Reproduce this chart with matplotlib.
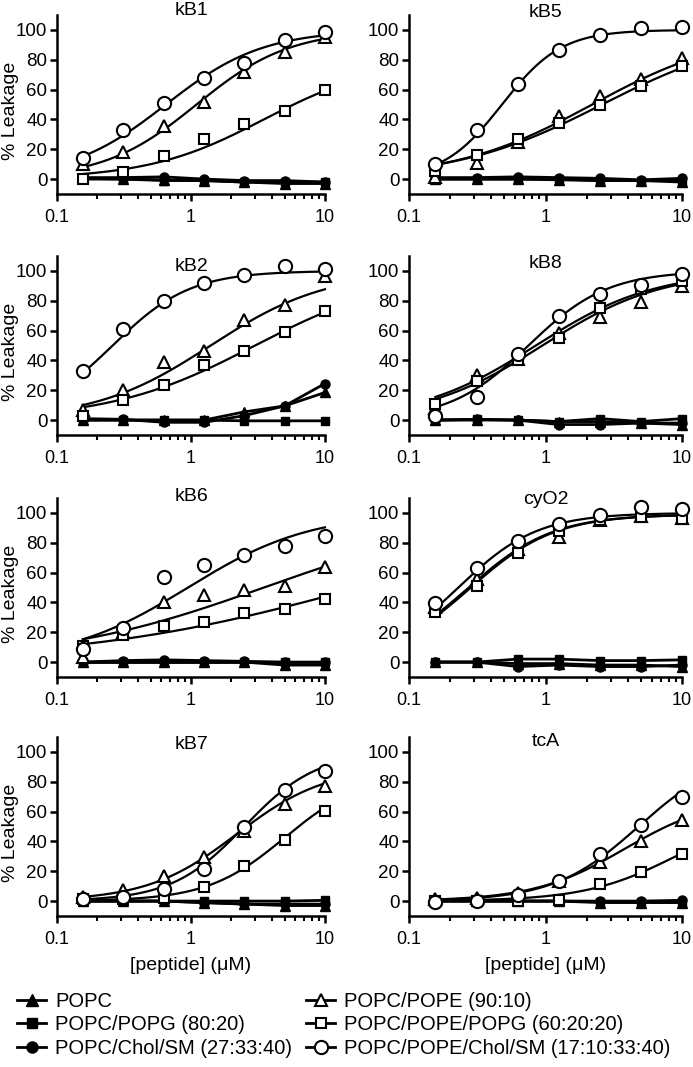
import numpy as np
import matplotlib
matplotlib.use('Agg')
import matplotlib.pyplot as plt
from matplotlib.lines import Line2D
from matplotlib.ticker import LogLocator, NullFormatter, FixedLocator, FixedFormatter

plt.rcParams['font.family'] = ['Liberation Sans', 'DejaVu Sans']

# ---------------- data ----------------
conc = [0.156, 0.3125, 0.625, 1.25, 2.5, 5, 10]
panel_names = ['kB1', 'kB5', 'kB2', 'kB8', 'kB6', 'cyO2', 'kB7', 'tcA']
series_labels = ['POPC', 'POPC/POPG (80:20)', 'POPC/Chol/SM (27:33:40)',
                 'POPC/POPE (90:10)', 'POPC/POPE/POPG (60:20:20)',
                 'POPC/POPE/Chol/SM (17:10:33:40)']
x_ticks = [0.1, 1, 10]
x_tick_labels = ['0.1', '1', '10']
y_ticks = [0, 20, 40, 60, 80, 100]

# order of each panel's arrays: POPC, POPG, Chol/SM, POPE, POPE/POPG, POPE/Chol/SM
kB1_popc = [0.5, 0, -0.5, -1, -2, -3, -3]
kB1_popg = [0, 0, -1, -1, -2, -2, -2]
kB1_chol = [1, 1, 1.5, 0, -1, -1, -2]
kB1_pope = [10, 18, 35.6, 51.5, 71.6, 85, 95]
kB1_pope_popg = [0, 5, 15.7, 27, 37, 45.6, 59.7]
kB1_pope_chol = [14.3, 33, 51, 67.5, 77.6, 93, 98.4]

kB5_popc = [0, 0, 0, -0.5, -1, -1, -2]
kB5_popg = [0, 0, 0, 0, -1, -1, -1]
kB5_chol = [1, 1, 1.5, 1, 0.5, -0.5, 0.5]
kB5_pope = [1.5, 10.6, 25, 42.5, 56, 67, 81.4]
kB5_pope_popg = [5.5, 16, 27, 37.6, 50, 62.4, 75.7]
kB5_pope_chol = [10, 33, 63.5, 86.7, 96.7, 101, 102]

kB2_popc = [0, 0, 0, 0, 5.5, 9.5, 18.5]
kB2_popg = [0, 0, 0, 0, -0.5, -0.5, -0.5]
kB2_chol = [1, 0.5, -1.5, -1.5, 3, 9.5, 24.5]
kB2_pope = [7, 20.5, 39, 46, 67, 77, 96.6]
kB2_pope_popg = [2.7, 13.4, 23.5, 37, 46, 59, 73.4]
kB2_pope_chol = [33, 61, 80, 91.7, 97.3, 103, 101]

kB8_popc = [0, 0, 0, -1, -1, -2, -3]
kB8_popg = [0, 0.5, 0, -1, 1, -1, 1]
kB8_chol = [0, 0.5, 0, -3, -3, -2, -2]
kB8_pope = [8, 30.4, 41, 58.5, 69.4, 79, 90]
kB8_pope_popg = [11, 26.4, 40.5, 55, 75, 88, 93.5]
kB8_pope_chol = [3, 15.8, 44.6, 70, 84.5, 90.5, 98]

kB6_popc = [0, 0, 0, 0, 0, -2, -2]
kB6_popg = [0, 0, 0, 0, 0, 0, 0]
kB6_chol = [0, 1, 1.5, 1, 0.5, 0, 0]
kB6_pope = [3.3, 20, 40, 45, 48, 51.3, 63.8]
kB6_pope_popg = [11, 18, 24, 27, 32.6, 35.3, 42.6]
kB6_pope_chol = [9, 23, 57, 65, 72, 77.7, 84.4]

cyO2_popc = [0, 0, -1, -1, -2, -2, -3]
cyO2_popg = [0, 0, 2, 2, 1, 1, 1.5]
cyO2_chol = [0, 0, -3, -2, -3, -3, -2]
cyO2_pope = [37, 56, 76, 84, 95, 98, 96.5]
cyO2_pope_popg = [33.4, 51.3, 73, 88, 95, 97, 96]
cyO2_pope_chol = [39.3, 63.3, 81.2, 92.4, 98.7, 103.7, 102.6]

kB7_popc = [0, 0, 0, -1, -2, -3, -3]
kB7_popg = [0, 0, 0, 0, 0, 0, 0.5]
kB7_chol = [0, 0, 0, -1, -2, -2, -2]
kB7_pope = [3, 7.4, 16.8, 29.4, 47.3, 65.2, 77.4]
kB7_pope_popg = [1.3, 1.3, 1.8, 9.2, 23.8, 41, 60.5]
kB7_pope_chol = [1.3, 2.5, 8, 21.3, 50, 74.2, 87.4]

tcA_popc = [0, 0, 0, 0, -1, -1, -1]
tcA_popg = [0, 0, 0, 0, -0.5, -0.5, -0.5]
tcA_chol = [0, 0, 0, 0, 0, 0, 0.5]
tcA_pope = [1.6, 2.3, 5.7, 13.6, 26, 40, 54.5]
tcA_pope_popg = [0, 0, 0, 1, 11.4, 19.8, 31.8]
tcA_pope_chol = [-0.7, 0, 3.9, 13.6, 31.4, 50.7, 70]

# fitted dose-response curves (top, EC50, Hill slope) for the open-symbol series,
# order: POPE, POPE/POPG, POPE/Chol/SM
kB1_fits = [(100, 1.1, 1.25), (80, 3.5, 1.0), (100, 0.65, 1.2)]
kB5_fits = [(100, 2.2, 0.85), (100, 2.6, 0.8), (100, 0.48, 2.0)]
kB2_fits = [(100, 1.4, 1.0), (100, 3.0, 0.8), (100, 0.26, 1.5)]
kB8_fits = [(100, 0.95, 1.0), (100, 0.85, 1.0), (100, 0.75, 1.5)]
kB6_fits = [(100, 3.5, 0.55), (100, 18, 0.42), (100, 0.95, 0.95)]
cyO2_fits = [(99, 0.27, 1.4), (99, 0.28, 1.4), (100, 0.23, 1.5)]
kB7_fits = [(90, 2.2, 1.3), (85, 5, 1.5), (100, 2.5, 1.6)]
tcA_fits = [(70, 3.8, 1.3), (60, 9, 1.3), (100, 4.8, 1.4)]

title_y = [113, 112, 103, 105, 111, 109, 105, 107]

g = globals()
panels = []
for nm in panel_names:
    panels.append(dict(
        filled=[g[nm + '_popc'], g[nm + '_popg'], g[nm + '_chol']],
        opened=[g[nm + '_pope'], g[nm + '_pope_popg'], g[nm + '_pope_chol']],
        fits=g[nm + '_fits']))

# ---------------- styles ----------------
filled_markers = ['^', 's', 'o']
filled_ms = [6.5, 5.5, 6.5]
open_markers = ['^', 's', 'o']
open_ms = [8.5, 7.5, 9.5]

def hill(x, top, ec50, n):
    return top / (1.0 + (ec50 / x) ** n)

W, H = 693, 1067
fig = plt.figure(figsize=(W / 100, H / 100), dpi=100)

col_x = [(57, 325), (409, 682)]
row_top = [15, 256, 498, 737]
ax_h = 179

xs = np.logspace(np.log10(conc[0]), np.log10(conc[-1]), 200)

for i, nm in enumerate(panel_names):
    r, c = divmod(i, 2)
    x0, x1 = col_x[c]
    t = row_top[r]
    ax = fig.add_axes([x0 / W, 1 - (t + ax_h) / H, (x1 - x0) / W, ax_h / H])
    p = panels[i]
    for k in range(3):
        ax.plot(conc, p['filled'][k], color='black', lw=2.0,
                marker=filled_markers[k], ms=filled_ms[k], mfc='black',
                mec='black', clip_on=False, zorder=3)
    for k in range(3):
        top, ec, n = p['fits'][k]
        ax.plot(xs, hill(xs, top, ec, n), color='black', lw=1.6, zorder=4,
                clip_on=False)
        ax.plot(conc, p['opened'][k], ls='none', marker=open_markers[k],
                ms=open_ms[k], mfc='white', mec='black', mew=1.5,
                clip_on=False, zorder=5)
    ax.set_xscale('log')
    ax.set_xlim(0.1, 10)
    ax.set_ylim(-10, 110)
    ax.spines['top'].set_visible(False)
    ax.spines['right'].set_visible(False)
    ax.spines['left'].set_linewidth(1.8)
    ax.spines['bottom'].set_linewidth(1.8)
    ax.xaxis.set_major_locator(FixedLocator(x_ticks))
    ax.xaxis.set_major_formatter(FixedFormatter(x_tick_labels))
    ax.xaxis.set_minor_locator(LogLocator(base=10, subs=np.arange(2, 10)))
    ax.xaxis.set_minor_formatter(NullFormatter())
    ax.set_yticks(y_ticks)
    ax.tick_params(axis='both', which='major', direction='out', length=5,
                   width=1.8, color='black')
    ax.tick_params(axis='y', which='major', labelsize=13.5, pad=2)
    ax.tick_params(axis='x', which='major', labelsize=13, pad=6)
    ax.tick_params(axis='x', which='minor', direction='out', length=3.5,
                   width=1.5)
    ax.text(1.0, title_y[i], nm, ha='center', va='center', fontsize=14)
    if c == 0:
        yc = 1 - (t + ax_h / 2 + 6) / H
        fig.text(11 / W, yc, '% Leakage', rotation=90, ha='center',
                 va='center', fontsize=14)
    if r == 3:
        ax.set_xlabel('[peptide] (μM)', fontsize=14, labelpad=6)
    ax.set_facecolor('none')

# ---------------- legend ----------------
handles = []
for k in range(3):
    handles.append(Line2D([], [], color='black', lw=2.0,
                          marker=filled_markers[k], ms=filled_ms[k] + 1.5,
                          mfc='black', mec='black'))
for k in range(3):
    handles.append(Line2D([], [], color='black', lw=2.0,
                          marker=open_markers[k], ms=open_ms[k],
                          mfc='white', mec='black', mew=1.5))

leg_kw = dict(loc='upper left', frameon=False, fontsize=14.5,
              handlelength=1.45, handletextpad=0.45, labelspacing=0.22,
              borderpad=0, borderaxespad=0)
fig.legend(handles[:3], series_labels[:3],
           bbox_to_anchor=(17 / W, 1 - 992 / H), **leg_kw)
fig.legend(handles[3:], series_labels[3:],
           bbox_to_anchor=(306 / W, 1 - 992 / H), **leg_kw)

fig.savefig('out.png', dpi=100)
